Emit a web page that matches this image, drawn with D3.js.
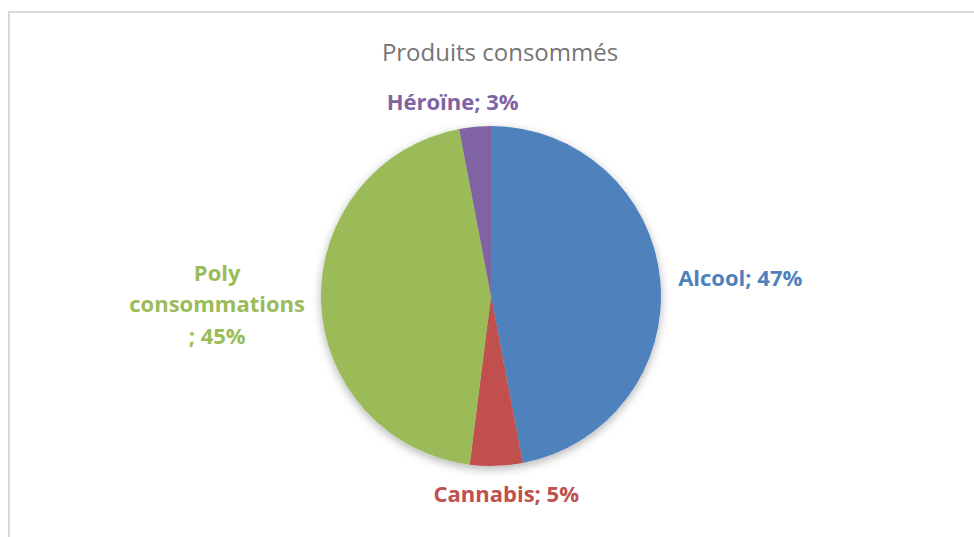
<!DOCTYPE html>
<html>
<head>
<meta charset="utf-8">
<script src="https://cdn.jsdelivr.net/npm/d3@7"></script>
<style>
  html, body { margin: 0; padding: 0; background: #fff; }
  svg { display: block; }
</style>
</head>
<body>
<svg id="chart" width="974" height="537"></svg>
<script>
// Products consumed, share in percent
const categories = ["Alcool", "Cannabis", "Poly consommations", "Héroïne"];
const values = [47, 5, 45, 3];
const colors = ["#4f81bd", "#c0504d", "#9bbb59", "#8064a2"];
// Label text lines for each slice
const labelLines = [
  ["Alcool; 47%"],
  ["Cannabis; 5%"],
  ["Poly", "consommations", "; 45%"],
  ["Héroïne; 3%"]
];

const svg = d3.select("#chart");
const W = 974, H = 537;
const cx = 491, cy = 296, R = 170;
const font = "'Open Sans', sans-serif";

// Chart area frame
svg.append("rect")
  .attr("x", 9).attr("y", 12)
  .attr("width", W + 10).attr("height", H + 10)
  .attr("fill", "#fff")
  .attr("stroke", "#d9d9d9").attr("stroke-width", 2);

// Title
svg.append("text")
  .attr("x", 500).attr("y", 61)
  .attr("text-anchor", "middle")
  .attr("font-family", font)
  .attr("font-size", 24)
  .attr("fill", "#757575")
  .text("Produits consommés");

// Soft shadow under the pie
const defs = svg.append("defs");
const f = defs.append("filter").attr("id", "shadow")
  .attr("x", "-20%").attr("y", "-20%").attr("width", "140%").attr("height", "140%");
f.append("feDropShadow")
  .attr("dx", 0).attr("dy", 3)
  .attr("stdDeviation", 5)
  .attr("flood-color", "#000").attr("flood-opacity", 0.3);

const data = categories.map((c, i) => ({ name: c, value: values[i], color: colors[i], lines: labelLines[i] }));

const pie = d3.pie().value(d => d.value).sort(null);
const arcs = pie(data);
const arc = d3.arc().innerRadius(0).outerRadius(R);

const g = svg.append("g").attr("transform", `translate(${cx},${cy})`);
g.append("g").attr("filter", "url(#shadow)")
  .selectAll("path").data(arcs).join("path")
  .attr("d", arc)
  .attr("fill", d => d.data.color);

// Labels placed outside the pie along each slice's mid-angle
const labelRadius = [188, 198, 274, 195];
const nudge = [[0, 0], [9, 0], [0, 0], [-20, 0]];
const anchors = ["start", "middle", "middle", "middle"];
const lineH = 31.5;

arcs.forEach((a, i) => {
  const mid = (a.startAngle + a.endAngle) / 2;
  const r = labelRadius[i];
  const x = Math.sin(mid) * r + nudge[i][0];
  const y = -Math.cos(mid) * r + nudge[i][1];
  const lines = a.data.lines;
  const t = g.append("text")
    .attr("text-anchor", anchors[i])
    .attr("font-family", font)
    .attr("font-weight", "bold")
    .attr("font-size", 22)
    .attr("fill", a.data.color);
  lines.forEach((ln, j) => {
    t.append("tspan")
      .attr("x", x)
      .attr("y", y + (j - (lines.length - 1) / 2) * lineH)
      .attr("dy", "0.35em")
      .text(ln);
  });
});
</script>
</body>
</html>
